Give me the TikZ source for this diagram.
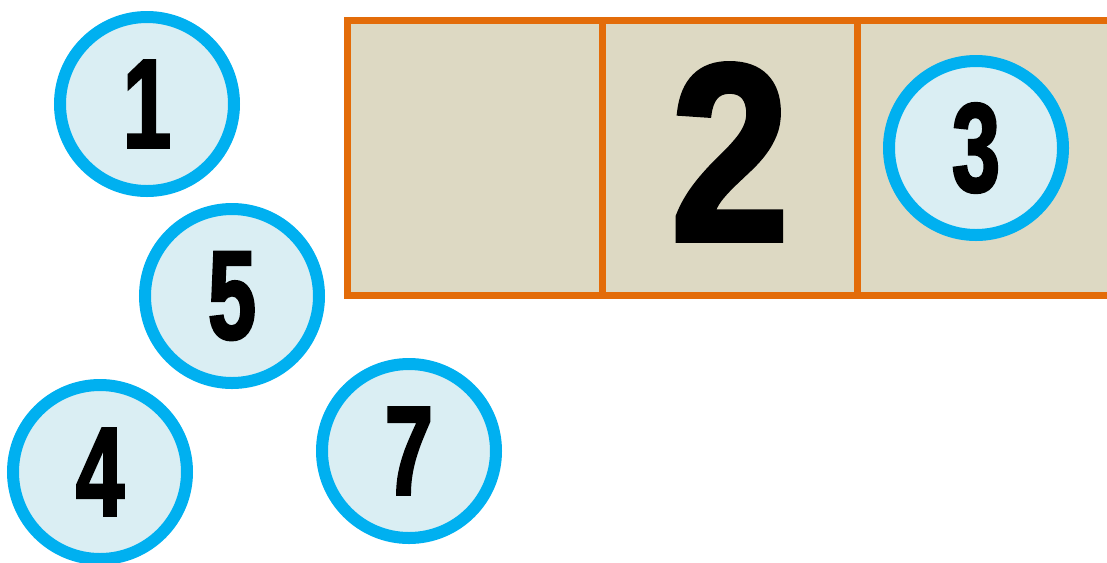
\documentclass[tikz,border=0pt]{standalone}
\usepackage{fontspec}
\newfontfamily\digitfont[FakeStretch=0.68,FakeBold=2]{Liberation Sans Bold}
\newfontfamily\bigdigitfont[FakeStretch=0.84,FakeBold=2]{Liberation Sans Bold}
\definecolor{ringblue}{HTML}{00B0F0}
\definecolor{ringfill}{HTML}{DAEEF3}
\definecolor{cellline}{HTML}{E36C09}
\definecolor{cellfill}{HTML}{DDD9C3}
\tikzset{
  ring/.style={circle,draw=ringblue,fill=ringfill,line width=9pt,
    minimum size=130.5pt,inner sep=0pt,font=\digitfont\fontsize{95}{95}\selectfont},
  cell/.style={draw=cellline,fill=cellfill,line width=5.25pt}
}

\begin{document}
\begin{tikzpicture}[x=0.75pt,y=-0.75pt]
  \useasboundingbox (0,0) rectangle (1107,562);
  % strip of cells
  \draw[cell] (347,20) rectangle (1115,295);
  \draw[cell] (602,20) -- (602,295);
  \draw[cell] (857,20) -- (857,295);
  \node (two) at (730,152) {\bigdigitfont\fontsize{190}{190}\selectfont 2};
  % circles
  \node[ring] (one) at (147,104) {1};
  \node[ring] (five) at (232,296) {5};
  \node[ring] (four) at (100,472) {4};
  \node[ring] (seven) at (409,451) {7};
  \node[ring] (three) at (976,148) {3};
\end{tikzpicture}
\end{document}
